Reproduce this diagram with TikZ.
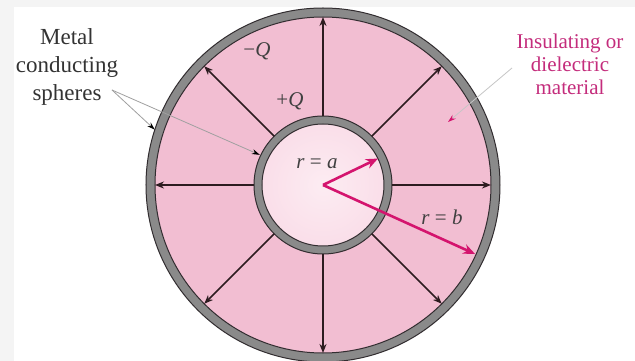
\documentclass[tikz,border=0pt]{standalone}
\usepackage{fontspec}
\setmainfont{Liberation Serif}
\usepackage{xcolor}
\usepackage{tikz}
\usetikzlibrary{calc,arrows.meta}
\definecolor{dielec}{RGB}{242,190,210}
\definecolor{interior}{RGB}{250,222,233}
\definecolor{centro}{RGB}{252,236,242}
\definecolor{gris}{RGB}{138,138,138}
\definecolor{borde}{RGB}{50,45,48}
\definecolor{flecha}{RGB}{45,28,32}
\definecolor{magenta2}{RGB}{212,20,110}
\definecolor{textomag}{RGB}{196,44,124}
\definecolor{guiagris}{RGB}{160,160,160}
\definecolor{fondo}{RGB}{244,244,244}

\begin{document}
\begin{tikzpicture}[x=1pt, y=1pt, >=Stealth, line width=1pt]
    \tikzset{
      campo/.style={draw=flecha, line width=1.5pt, -{Stealth[length=9pt,width=7pt]}},
      radio/.style={draw=magenta2, line width=2.6pt, -{Stealth[length=12pt,width=10pt]}},
      guia/.style={draw=guiagris, line width=0.8pt, -{Stealth[length=8pt,width=5pt,color=black]}},
      guiamag/.style={draw=guiagris!60, line width=0.8pt, -{Stealth[length=8pt,width=5pt,color=magenta2]}},
      etiq/.style={font=\fontsize{21}{21}\selectfont, text=black!75},
    }
    \useasboundingbox (-323,-176) rectangle (312,185);
    \fill[fondo] (-323,-176) rectangle (312,185);
    \fill[white] (-309,-176) rectangle (312,178);
    \coordinate (O) at (0,0);
    % esfera exterior y dielectrico
    \fill[gris] (O) circle (177pt);
    \fill[dielec] (O) circle (168pt);
    \draw[borde, line width=1pt] (O) circle (177pt) (O) circle (168pt);
    % esfera interior
    \fill[gris] (O) circle (69pt);
    \shade[inner color=centro, outer color=interior] (O) circle (61pt);
    \draw[borde, line width=1pt] (O) circle (69pt) (O) circle (61pt);
    % lineas de campo radiales
    \foreach \ang in {0,45,...,315}{
      \coordinate (i\ang) at (\ang:69);
      \coordinate (e\ang) at (\ang:168);
      \draw[campo] (i\ang) -- (e\ang);
    }
    % radios a y b
    \coordinate (pa) at (25.7:61);
    \coordinate (pb) at (-24.4:167);
    \draw[radio] (O) -- (pa);
    \draw[radio] (O) -- (pb);
    \node[etiq] (ra) at (-6,21) {\textit{r} = \textit{a}};
    \node[etiq] (rb) at (119,-32) {\textit{r} = \textit{b}};
    % cargas
    \node[etiq] (qneg) at (-66,134) {−\textit{Q}};
    \node[etiq] (qpos) at (-33,84) {+\textit{Q}};
    % rotulo de las esferas
    \node[align=center, font=\fontsize{23}{28}\selectfont, text=black!80] (metal) at (-256,118)
      {Metal\\conducting\\spheres};
    \coordinate (lsph) at (-211,95);
    \coordinate (tout) at (161.8:177);
    \coordinate (tin) at (154.5:70);
    \draw[guia] (lsph) -- (tout);
    \draw[guia] (lsph) -- (tin);
    % rotulo del dielectrico
    \node[align=center, font=\fontsize{21}{23}\selectfont, text=textomag] (aislante) at (247,121)
      {Insulating or\\dielectric\\material};
    \coordinate (lins) at (189,117);
    \coordinate (tins) at (125,63);
    \draw[guiamag] (lins) -- (tins);
\end{tikzpicture}
\end{document}
